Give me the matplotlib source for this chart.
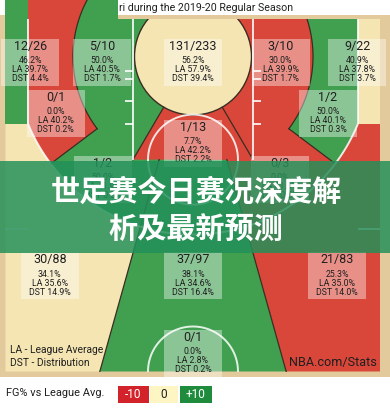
import matplotlib
matplotlib.use("Agg")
import matplotlib.pyplot as plt
import numpy as np
from matplotlib.patches import Circle, Polygon, Rectangle

# ---- zone numbers ---------------------------------------------------------
zone_names = [
    "Left Corner 3", "Left Baseline Mid", "Restricted Area", "Right Baseline Mid",
    "Right Corner 3", "Left Wing Mid", "Right Wing Mid", "In The Paint (Non-RA)",
    "Left Elbow Mid", "Right Elbow Mid", "Left Wing 3", "Center 3", "Right Wing 3",
    "Backcourt",
]
made = [12, 5, 131, 3, 9, 0, 1, 1, 1, 0, 30, 37, 21, 0]
attempts = [26, 10, 233, 10, 22, 1, 2, 13, 2, 3, 88, 97, 83, 1]
fg_pct = [46.2, 50.0, 56.2, 30.0, 40.9, 0.0, 50.0, 7.7, 50.0, 0.0, 34.1, 38.1, 25.3, 0.0]
league_pct = [39.7, 40.5, 57.9, 39.9, 37.8, 40.2, 40.1, 42.2, 41.9, 41.4, 35.6, 34.6, 35.0, 2.8]
dist_pct = [4.4, 1.7, 39.4, 1.7, 3.7, 0.2, 0.3, 2.2, 0.3, 0.5, 14.9, 16.4, 14.0, 0.2]

# label anchors in court feet (basket at 0,0, y grows toward half court)
label_x = [-21.7, -12.1, 0.0, 11.7, 21.9, -18.3, 18.0, 0.0, -12.0, 11.6, -19.1, 0.0, 19.2, 0.0]
label_y = [0.8, 0.8, 0.8, 0.8, 0.8, 7.5, 7.5, 11.6, 16.3, 16.3, 29.2, 29.2, 29.2, 39.5]

title_text = "ri during the 2019-20 Regular Season"
banner_lines = ["世足赛今日赛况深度解", "析及最新预测"]
legend_title = "FG% vs League Avg."
legend_labels = ["-10", "0", "+10"]

RED, YELLOW, GREEN = "#d9473a", "#f4e5b2", "#40a050"
WOOD = "#e3ca9c"
DARK = "#3a2d22"
INK = "#1f1f1f"

NARROW = ["Roboto", "DejaVu Sans"]
CJK = ["Noto Sans CJK SC", "DejaVu Sans"]


def zone_color(i):
    diff = fg_pct[i] - league_pct[i]
    if diff > 3.3:
        return GREEN
    if diff < -3.3:
        return RED
    return YELLOW


def arc(r, a0, a1, n=60, cx=0.0, cy=0.0):
    t = np.radians(np.linspace(a0, a1, n))
    return np.column_stack([cx + r * np.cos(t), cy + r * np.sin(t)])


# court geometry (feet)
BASE, HALF, TOP = -5.0, 42.0, -7.6
R3, XC = 23.75, 22.0
YC = np.sqrt(R3 ** 2 - XC ** 2)
A_CORNER = np.degrees(np.arcsin(YC / R3))
RMID, RA, LANE, FT = 16.0, 7.8, 8.0, 13.75
A_SPLIT, A_PAINT = 37.0, 60.0


def atb_x(y, side):
    return side * (8.0 + 0.28 * (y - 26.2))


fig = plt.figure(figsize=(3.9, 4.19), dpi=100)
ax = fig.add_axes([0, 0, 1, 1])
ax.set_xlim(-25.733, 26.267)
ax.set_ylim(48.333, -7.533)
ax.axis("off")


def fill(points, color, z=1, **kw):
    ax.add_patch(Polygon(np.asarray(points), closed=True, facecolor=color,
                         edgecolor="none", zorder=z, **kw))


# wood surround
ax.add_patch(Rectangle((-25.733, -5.53), 52.0, 48.23, facecolor=WOOD, zorder=0))

# above-the-break threes
fill([(-25, YC), (-25, HALF), (atb_x(HALF, -1), HALF), (atb_x(YC, -1), YC)], zone_color(10))
fill([(25, YC), (25, HALF), (atb_x(HALF, 1), HALF), (atb_x(YC, 1), YC)], zone_color(12))

# inside the arc, halves then sectors then outer bands
fill(np.vstack([[(0, TOP), (-XC, TOP)], arc(R3, 180 - A_CORNER, 90)]), zone_color(1), 2)
fill(np.vstack([[(0, BASE), (XC, BASE)], arc(R3, A_CORNER, 90)]), zone_color(3), 2)
fill(np.vstack([[(0, 0)], arc(R3, 90, 180 - A_SPLIT)]), zone_color(8), 2)
fill(np.vstack([[(0, 0)], arc(R3, A_SPLIT, 90)]), zone_color(9), 2)
top_ang = 180 + np.degrees(np.arcsin(-TOP / RMID))
fill(np.vstack([[(-XC, TOP), (-XC, YC)], arc(R3, 180 - A_CORNER, 180 - A_SPLIT),
                arc(RMID, 180 - A_SPLIT, top_ang)]), zone_color(5), 3)
base_ang = np.degrees(np.arcsin(BASE / RMID))
fill(np.vstack([[(XC, BASE), (XC, YC)], arc(R3, A_CORNER, A_SPLIT),
                arc(RMID, A_SPLIT, base_ang)]), zone_color(6), 3)

# center zone strip from the free-throw line to half court
fill([(atb_x(FT, -1), FT), (atb_x(FT, 1), FT), (atb_x(HALF, 1), HALF), (atb_x(HALF, -1), HALF)],
     zone_color(11), 3)

# corners
ax.add_patch(Rectangle((-25, TOP), 3, YC - TOP, facecolor=zone_color(0), zorder=3))
ax.add_patch(Rectangle((XC, BASE), 3, YC - BASE, facecolor=zone_color(4), zorder=3))

# paint and restricted area
fill(np.vstack([[(-LANE, FT), (LANE, FT)], arc(RA, A_PAINT, 180 - A_PAINT)]), zone_color(7), 4)
ax.add_patch(Circle((0, 0), RA, facecolor=zone_color(2), edgecolor=DARK, lw=1.0, zorder=5))

# dark zone borders
lw_d = 0.9
for pts in (arc(RMID, 180 - A_SPLIT, top_ang), arc(RMID, A_SPLIT, base_ang)):
    ax.plot(pts[:, 0], pts[:, 1], color=DARK, lw=lw_d, zorder=6)
for a in (A_SPLIT, 180 - A_SPLIT):
    r = np.array([RMID, R3])
    ax.plot(r * np.cos(np.radians(a)), r * np.sin(np.radians(a)), color=DARK, lw=lw_d, zorder=6)
for s, a in ((1, A_PAINT), (-1, 180 - A_PAINT)):
    ax.plot([RA * np.cos(np.radians(a)), s * LANE], [RA * np.sin(np.radians(a)), FT],
            color=DARK, lw=lw_d, zorder=6)
for s in (-1, 1):
    ax.plot([atb_x(FT, s), atb_x(HALF, s)], [FT, HALF], color=DARK, lw=lw_d, zorder=6)

# white court markings
WL = dict(color="white", lw=1.4, alpha=0.85, zorder=7, solid_capstyle="butt")
for s in (-1, 1):
    ax.plot([s * LANE, s * LANE], [BASE, FT], **WL)
    ax.plot([s * XC, s * XC], [BASE, YC], **WL)
    ax.plot([s * 25, s * XC], [23.0, 23.0], **WL)
    for yb in (7, 8, 11, 14):
        ax.plot([s * LANE, s * (LANE + 1.07)], [BASE + yb, BASE + yb], **WL)
a3 = arc(R3, A_CORNER, 180 - A_CORNER, 120)
ax.plot(a3[:, 0], a3[:, 1], **WL)
for cy in (FT, HALF):
    c = arc(6.0, 0, 360, 120, 0, cy)
    ax.plot(c[:, 0], c[:, 1], **WL)

# half-court edge and side wood
ax.add_patch(Rectangle((-25.733, HALF), 52.0, 0.7, facecolor=WOOD, zorder=8))
ax.add_patch(Rectangle((-25.733, HALF + 0.7), 52.0, 6.0, facecolor="white", zorder=8))
ax.add_patch(Rectangle((-25.733, -2.2), 0.733, HALF + 2.2, facecolor=WOOD, zorder=8))
ax.add_patch(Rectangle((25.0, -5.53), 1.267, HALF + 5.53, facecolor=WOOD, zorder=8))

# zone labels
BOX_W, BOX_H = 7.73, 6.27
for i in range(len(zone_names)):
    x, y = label_x[i], label_y[i]
    ax.add_patch(Rectangle((x - BOX_W / 2, y - BOX_H / 2 + 0.05), BOX_W, BOX_H,
                           facecolor="white", alpha=0.4, edgecolor="none", zorder=9))
    ax.text(x, y - 2.07, f"{made[i]}/{attempts[i]}", ha="center", va="center",
            fontsize=9.0, color=INK, family=NARROW, zorder=10)
    for dy, s in ((-0.2, f"{fg_pct[i]:.1f}%"), (1.0, f"LA {league_pct[i]:.1f}%"),
                  (2.2, f"DST {dist_pct[i]:.1f}%")):
        ax.text(x, y + dy, s, ha="center", va="center", fontsize=6.3, color=INK,
                family=NARROW, zorder=10)

ax.text(-24.4, 39.1, "LA - League Average", ha="left", va="center", fontsize=7.4,
        color=INK, family=NARROW, zorder=10)
ax.text(-24.4, 40.85, "DST - Distribution", ha="left", va="center", fontsize=7.4,
        color=INK, family=NARROW, zorder=10)
ax.text(24.55, 40.75, "NBA.com/Stats", ha="right", va="center", fontsize=9.1,
        color=INK, family=NARROW, zorder=10)

# title strip
ax.add_patch(Rectangle((-10.0, -7.533), 36.3, 2.0, facecolor="white", zorder=11))
ax.add_patch(Rectangle((-10.0, -5.53), 36.3, 0.5, facecolor=WOOD, zorder=11))
ax.text(-9.9, -6.42, title_text, ha="left", va="center", fontsize=7.7, color=INK,
        family=NARROW, zorder=12)

# legend
ax.text(-24.93, 44.9, legend_title, ha="left", va="center", fontsize=7.9, color=INK,
        family=NARROW, zorder=12)
legend_colors = ["#d3232a", "#fdf6c4", "#1f8b3d"]
legend_text_colors = ["white", INK, "white"]
legend_x0 = [-10.0, -5.73, -1.73]
legend_w = [4.13, 3.73, 4.26]
for c, tc, x0, w, lab in zip(legend_colors, legend_text_colors, legend_x0, legend_w, legend_labels):
    ax.add_patch(Rectangle((x0, 43.93), w, 2.27, facecolor=c, zorder=12))
    ax.text(x0 + w / 2, 45.1, lab, ha="center", va="center", fontsize=8.6, color=tc,
            family=NARROW, zorder=13)

# overlay banner
ax.add_patch(Rectangle((-25.733, 13.93), 52.0, 12.27, facecolor="#23905a", alpha=0.84,
                       edgecolor="none", zorder=14))
for yy, line in zip((18.07, 23.13), banner_lines):
    ax.text(0.4, yy, line, ha="center", va="center", fontsize=21, color="white",
            fontweight="bold", family=CJK, zorder=15)

fig.savefig("out.png", dpi=100, facecolor="white")
